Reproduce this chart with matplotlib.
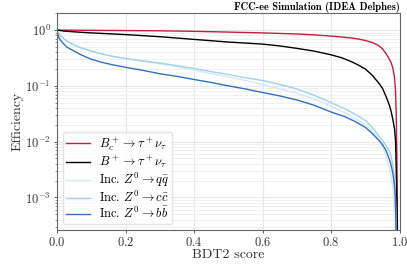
import numpy as np
import matplotlib
matplotlib.use('Agg')
import matplotlib.pyplot as plt

plt.rcParams['font.family'] = 'serif'
plt.rcParams['font.serif'] = ['cmr10', 'DejaVu Serif']
plt.rcParams['mathtext.fontset'] = 'cm'
plt.rcParams['axes.unicode_minus'] = False
plt.rcParams['axes.formatter.use_mathtext'] = True

# BDT2 score cut values and efficiencies
score_sig = [0.0, 0.02, 0.05, 0.1, 0.15, 0.2, 0.25, 0.3, 0.35, 0.4, 0.45, 0.5, 0.55, 0.6, 0.65, 0.7,
             0.75, 0.8, 0.83, 0.86, 0.88, 0.9, 0.92, 0.94, 0.95, 0.96, 0.97, 0.975, 0.98, 0.985,
             0.988, 0.99, 0.992, 0.994]
eff_bc = [1.0, 0.998, 0.995, 0.99, 0.985, 0.98, 0.975, 0.97, 0.96, 0.95, 0.935, 0.92, 0.905, 0.89,
          0.87, 0.85, 0.82, 0.78, 0.75, 0.72, 0.69, 0.65, 0.6, 0.52, 0.46, 0.38, 0.3, 0.26, 0.21,
          0.14, 0.08, 0.03, 0.005, 0.0001]
eff_bu = [1.0, 0.96, 0.93, 0.89, 0.86, 0.83, 0.795, 0.76, 0.72, 0.68, 0.645, 0.61, 0.585, 0.56,
          0.52, 0.47, 0.42, 0.36, 0.32, 0.27, 0.235, 0.2, 0.155, 0.11, 0.09, 0.065, 0.045, 0.035,
          0.025, 0.017, 0.01, 0.003, 0.0008, 0.0001]

score_bkg = [0.0, 0.002, 0.005, 0.01, 0.02, 0.03, 0.05, 0.07, 0.1, 0.13, 0.16, 0.2, 0.25, 0.3,
             0.35, 0.4, 0.45, 0.5, 0.55, 0.6, 0.65, 0.7, 0.75, 0.8, 0.84, 0.87, 0.9, 0.92, 0.94,
             0.95, 0.96, 0.97, 0.975, 0.98, 0.984, 0.987, 0.99]
eff_qq = [1.0, 0.93, 0.87, 0.8, 0.7, 0.63, 0.54, 0.48, 0.42, 0.375, 0.34, 0.305, 0.275, 0.25,
          0.22, 0.19, 0.165, 0.145, 0.125, 0.105, 0.088, 0.074, 0.058, 0.043, 0.033, 0.026, 0.02,
          0.0155, 0.0105, 0.0082, 0.0055, 0.0033, 0.0024, 0.0015, 0.0008, 0.0004, 0.0001]
eff_cc = [1.0, 0.93, 0.87, 0.8, 0.7, 0.63, 0.54, 0.48, 0.42, 0.375, 0.34, 0.31, 0.28, 0.257,
          0.23, 0.205, 0.18, 0.16, 0.14, 0.125, 0.106, 0.088, 0.068, 0.05, 0.039, 0.031, 0.024,
          0.018, 0.0125, 0.0105, 0.0085, 0.0068, 0.0055, 0.0038, 0.0025, 0.0013, 0.0002]
eff_bb = [1.0, 0.85, 0.75, 0.66, 0.56, 0.49, 0.42, 0.36, 0.3, 0.265, 0.24, 0.215, 0.19, 0.165,
          0.148, 0.13, 0.115, 0.1, 0.088, 0.076, 0.066, 0.056, 0.045, 0.034, 0.028, 0.023, 0.018,
          0.014, 0.0105, 0.0088, 0.007, 0.0048, 0.0038, 0.0027, 0.0018, 0.0011, 0.0002]

fig = plt.figure(figsize=(4.07, 2.71), dpi=100)
ax = fig.add_axes([0.14, 0.151, 0.842, 0.8])

ax.semilogy(score_sig, eff_bc, color='#c41e3a', lw=1.0, label=r'$B_c^+ \to \tau^+\nu_\tau$')
ax.semilogy(score_sig, eff_bu, color='black', lw=1.0, label=r'$B^+ \to \tau^+\nu_\tau$')
ax.semilogy(score_bkg, eff_qq, color='#d4e8f5', lw=1.0, label=r'Inc. $Z^0 \to q\bar{q}$')
ax.semilogy(score_bkg, eff_cc, color='#a3cfe8', lw=1.0, label=r'Inc. $Z^0 \to c\bar{c}$')
ax.semilogy(score_bkg, eff_bb, color='#3470bd', lw=1.0, label=r'Inc. $Z^0 \to b\bar{b}$')

ax.set_xlim(0, 1.0)
ax.set_ylim(2.6e-4, 2.0)
ax.set_xticks([0.0, 0.2, 0.4, 0.6, 0.8, 1.0])
ax.grid(True, which='major', color='#e6e6e6', lw=0.8)
ax.grid(True, which='minor', axis='y', color='#ececec', lw=0.6)
ax.set_axisbelow(True)
for s in ax.spines.values():
    s.set_color('#666666')
ax.tick_params(labelsize=9, colors='#444444', labelcolor='#333333', length=2.5, width=0.6, pad=2)
ax.tick_params(which='minor', length=1.5, width=0.5, colors='#666666')

ax.set_xlabel('BDT2 score', fontsize=10, labelpad=0, color='#333333')
ax.set_ylabel('Efficiency', fontsize=10, labelpad=1, color='#333333')
ax.set_title('FCC-ee Simulation (IDEA Delphes)', loc='right', fontsize=7.5,
             fontname='cmb10', pad=2)

leg = ax.legend(loc='lower left', fontsize=9, frameon=True, handlelength=1.95,
                handletextpad=0.7, labelspacing=0.08, borderaxespad=0.45, borderpad=0.25)
leg.get_frame().set_edgecolor('#dddddd')

fig.savefig('out.png', dpi=100)
